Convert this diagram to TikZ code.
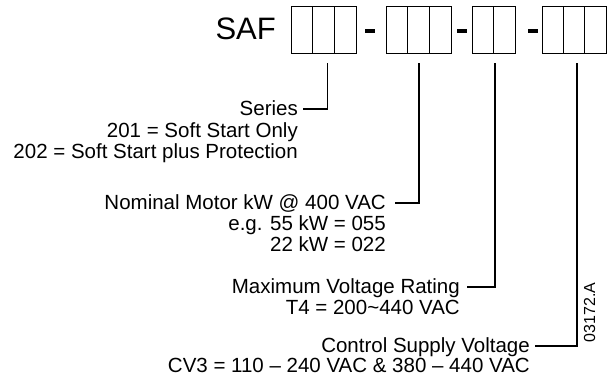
\documentclass[tikz,border=0pt]{standalone}
\usepackage{fontspec}
\setmainfont{Liberation Sans}
\tikzset{
    cell/.style={draw=black, line width=1.1pt},
    leader/.style={draw=black, line width=1.8pt},
    field/.style={anchor=base east, inner sep=0pt, font=\fontsize{20.5}{21}\selectfont},
    heading/.style={field, text height=12pt, text depth=0pt},
    separator/.style={fill=black},
}
\newcommand{\codegroup}[3]{%
    \node[cell, anchor=north west, inner sep=0pt, minimum width=#3*21.6pt, minimum height=47pt] (#1) at (#2,6) {};
    \foreach \i in {2,...,#3} {\draw[cell] ([xshift=(\i-1)*21.6pt]#1.north west) -- ([xshift=(\i-1)*21.6pt]#1.south west);}
}

\begin{document}
\begin{tikzpicture}[x=1pt, y=-1pt]
    \useasboundingbox (0,0) rectangle (607,378);

    % type code: SAF xxx - xxx - xx - xxx
    \node[anchor=base east, inner sep=0pt, font=\fontsize{31}{31}\selectfont] (saf) at (276,39) {SAF};
    \codegroup{series code}{291}{3}
    \codegroup{kw code}{386}{3}
    \codegroup{voltage code}{472}{2}
    \codegroup{supply code}{541.5}{3}
    \foreach \x in {365,457,528} {\fill[separator] (\x,29.3) rectangle ++(10,3.5);}

    % Series
    \node[heading] (series) at (298,115) {Series};
    \node[field] (series a) at (298,137) {201 = Soft Start Only};
    \node[field] (series b) at (298,158) {202 = Soft Start plus Protection};
    \draw[leader] ([xshift=3.5pt, yshift=-9pt]series code.south) |- ([xshift=5pt]series.east);

    % Nominal motor rating
    \node[heading] (rating) at (386,209) {Nominal Motor kW @ 400 VAC};
    \node[field] (rating a) at (386,230) {e.g. 55 kW = 055};
    \node[field] (rating b) at (386,251) {22 kW = 022};
    \draw[leader] ([yshift=-9pt]kw code.south) |- ([xshift=9pt]rating.east);

    % Maximum voltage
    \node[heading] (voltage) at (460,293) {Maximum Voltage Rating};
    \node[field] (voltage a) at (460,314) {T4 = 200\textasciitilde 440 VAC};
    \draw[leader] ([xshift=1pt, yshift=-9pt]voltage code.south) |- ([xshift=7pt]voltage.east);

    % Control supply
    \node[heading] (supply) at (530,352) {Control Supply Voltage};
    \node[field] (supply a) at (530,372) {CV3 = 110 – 240 VAC \& 380 – 440 VAC};
    \draw[leader] ([xshift=2.5pt, yshift=-9pt]supply code.south) |- ([xshift=5pt]supply.east);

    \node[rotate=90, anchor=base, inner sep=0pt, font=\fontsize{16}{16}\selectfont] (drawing no) at (595,312.5) {03172.A};

\end{tikzpicture}
\end{document}
